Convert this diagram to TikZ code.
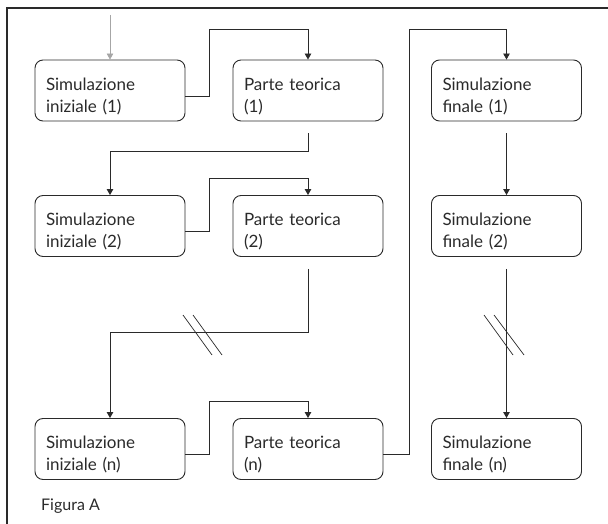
\documentclass[tikz,border=0pt]{standalone}
\usepackage{fontspec}
\setmainfont{Lato}
\usetikzlibrary{arrows.meta,calc}
\definecolor{ink}{HTML}{2A2A2A}
\tikzset{
  box/.style={draw=ink, line width=0.9pt, rounded corners=8pt, minimum width=150pt, minimum height=61pt,
    inner sep=0pt, align=left, text width=128pt, text=ink,
    font=\fontsize{17}{22}\selectfont},
  conn/.style={draw=ink, line width=0.9pt},
  arr/.style={conn, -{Triangle[width=6.5pt,length=6pt]}},
  brk/.style={draw=ink, line width=0.7pt},
}
\newcommand{\bx}[2]{\rule{0pt}{24pt}#1\\#2}
\begin{document}
\begin{tikzpicture}[x=1pt,y=-1pt]
\useasboundingbox (0,0) rectangle (608,524);
% frame
\draw[ink, line width=1.8pt] (7,524) -- (7,8) -- (608,8);
% boxes
\node[box] (si1) at (110,90.5) {\bx{Simulazione}{iniziale (1)}};
\node[box] (pt1) at (308,90.5) {\bx{Parte teorica}{(1)}};
\node[box] (sf1) at (506.5,90.5) {\bx{Simulazione}{finale (1)}};
\node[box] (si2) at (110,226) {\bx{Simulazione}{iniziale (2)}};
\node[box] (pt2) at (308,226) {\bx{Parte teorica}{(2)}};
\node[box] (sf2) at (506.5,226) {\bx{Simulazione}{finale (2)}};
\node[box] (sin) at (110,449) {\bx{Simulazione}{iniziale (n)}};
\node[box] (ptn) at (308,449) {\bx{Parte teorica}{(n)}};
\node[box] (sfn) at (506.5,449) {\bx{Simulazione}{finale (n)}};
\node[anchor=base west, text=ink, font=\fontsize{16}{18}\selectfont, inner sep=0pt] (fig) at (41,510) {Figura A};
% connectors
\coordinate (start) at (110,15);
\draw[arr, draw=gray!70, line width=0.6pt] (start) -- (si1.north);
\draw[arr] ($(si1.east)+(0,6)$) -- ++(24,0) |- ($(pt1.north)+(0,-30)$) -- (pt1.north);
\draw[arr] ($(pt1.south)+(0,12)$) |- ($(si2.north)+(0,-44)$) -- (si2.north);
\draw[arr] ($(si2.east)+(0,5)$) -- ++(24,0) |- ($(pt2.north)+(0,-17)$) -- (pt2.north);
\draw[arr] ($(pt2.south)+(0,12)$) |- ($(sin.north)+(0,-86)$) -- (sin.north);
\draw[arr] ($(sin.east)+(0,5)$) -- ++(24,0) |- ($(ptn.north)+(0,-17)$) -- (ptn.north);
\draw[arr] ($(ptn.east)+(0,5)$) -- ++(26,0) |- ($(sf1.north)+(0,-30)$) -- (sf1.north);
\draw[arr] ($(sf1.south)+(0,12)$) -- (sf2.north);
\draw[arr] ($(sf2.south)+(0,12)$) -- (sfn.north);
% break marks
\draw[brk] (183,315) -- (212,355);
\draw[brk] (193,315) -- (222,355);
\draw[brk] (484,315) -- (513,355);
\draw[brk] (494,315) -- (524,355);
\end{tikzpicture}
\end{document}
